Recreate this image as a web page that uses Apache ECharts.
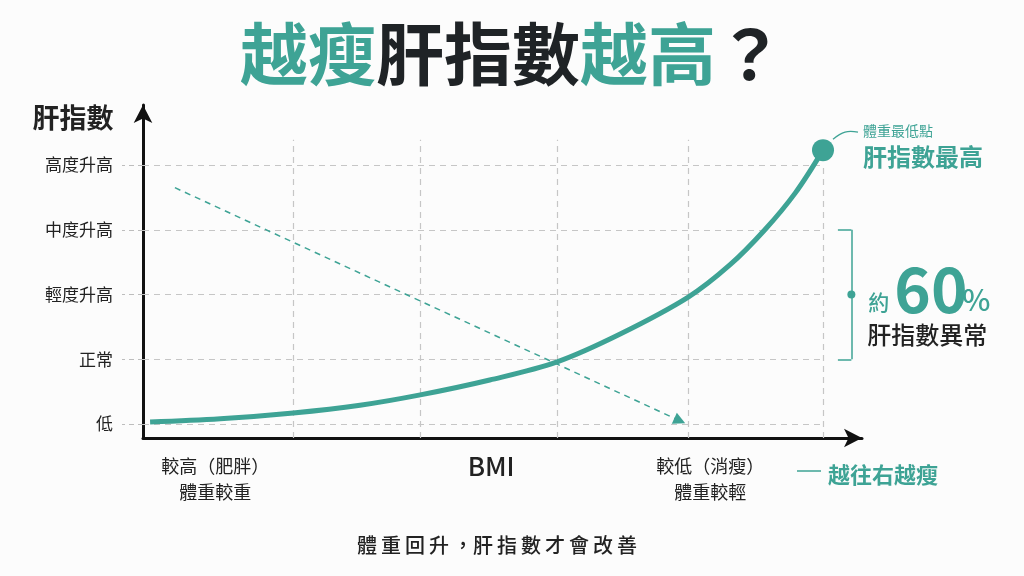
<!DOCTYPE html>
<html>
<head>
<meta charset="utf-8">
<script src="https://cdn.jsdelivr.net/npm/echarts@6/dist/echarts.min.js"></script>
<style>
  html, body { margin: 0; padding: 0; background: #fcfcfc; }
  #main { width: 1024px; height: 576px; }
</style>
</head>
<body>
<div id="main"></div>
<script>
// 肝指數等級（y 軸）
var yLevels = ['低', '正常', '輕度升高', '中度升高', '高度升高'];
var yLevelPos = [0, 1, 2, 3, 4];

// BMI 由高到低（x 軸往右越瘦），肝指數曲線
var bmiX = [1.0, 10.9, 21.2, 30.6, 39.1, 48.9, 58.4, 67.3, 76.9, 82.8, 87.7, 92.0, 95.9];
var liverY = [0.03, 0.08, 0.17, 0.29, 0.45, 0.68, 0.96, 1.39, 1.96, 2.46, 3.00, 3.57, 4.23];

// 垂直虛線格線
var gridX = [21.2, 39.1, 58.4, 76.9, 95.9];
var gridTop = [4.39, 4.39, 4.39, 4.39, 4.0];

// x 軸標籤
var xLabelPos = [10.2, 49.1, 80.0];
var xLabelText = ['{a|較高（肥胖）}\n{a|體重較重}', '{b|BMI}', '{a|較低（消瘦）}\n{a|體重較輕}'];

// 趨勢虛線箭頭
var trendFrom = [4.5, 3.65];
var trendTo = [75.7, 0.05];

// 約60% 的範圍括號（正常 ~ 中度升高）
var bracketX = 99.9;
var bracketTickX = 98.0;
var bracketRange = [1, 3];

var TEAL = '#3ea395';
var DARK = '#1f2326';
var FONT = '"Noto Sans CJK TC", "Noto Sans CJK SC", "Noto Sans", sans-serif';

var chart = echarts.init(document.getElementById('main'));

var curveData = bmiX.map(function (x, i) { return [x, liverY[i]]; });
var endPt = curveData[curveData.length - 1];

var gridLines = [];
yLevelPos.forEach(function (v) {
  gridLines.push([{ coord: [0, v] }, { coord: [gridX[gridX.length - 1], v] }]);
});
gridX.forEach(function (x, i) {
  gridLines.push([{ coord: [x, -0.216] }, { coord: [x, gridTop[i]] }]);
});

var axisLineStyle = { color: '#111', width: 3 };

chart.setOption({
  animation: false,
  backgroundColor: '#fcfcfc',
  grid: { left: 143, right: 162, top: 105, bottom: 138 },
  xAxis: {
    type: 'value', min: 0, max: 101.4,
    axisLine: { show: true, onZero: false, symbol: ['none', 'arrow'], symbolSize: [14, 18], lineStyle: axisLineStyle },
    axisTick: { show: false },
    splitLine: { show: false },
    axisLabel: {
      customValues: xLabelPos,
      margin: 15,
      formatter: function (v) {
        for (var i = 0; i < xLabelPos.length; i++) {
          if (Math.abs(xLabelPos[i] - v) < 0.01) return xLabelText[i];
        }
        return '';
      },
      rich: {
        a: { fontSize: 18, lineHeight: 26, color: '#222', fontFamily: FONT },
        b: { fontSize: 26, lineHeight: 26, color: '#222', fontFamily: FONT, fontWeight: 500 }
      }
    }
  },
  yAxis: {
    type: 'value', min: -0.216, max: 4.927,
    axisLine: { show: true, onZero: false, symbol: ['none', 'arrow'], symbolSize: [14, 18], lineStyle: axisLineStyle },
    axisTick: { show: true, customValues: yLevelPos, length: 21, lineStyle: { color: '#bdbdbd', width: 1.2, type: [5, 4] } },
    axisLabel: {
      customValues: yLevelPos, margin: 30,
      formatter: function (v) { return yLevels[Math.round(v)]; },
      fontSize: 17, color: '#222', fontFamily: FONT
    },
    splitLine: { show: false }
  },
  series: [
    {
      name: 'grid', type: 'line', data: [], z: 1, silent: true,
      markLine: {
        silent: true, symbol: ['none', 'none'], label: { show: false },
        lineStyle: { color: '#c6c6c6', width: 1.2, type: [6, 5] },
        data: gridLines
      }
    },
    {
      name: 'trend', type: 'line', data: [], z: 2, silent: true,
      markLine: {
        silent: true, symbol: ['none', 'triangle'], symbolSize: 12, label: { show: false },
        lineStyle: { color: TEAL, width: 1.5, type: [6, 5] },
        data: [[{ coord: trendFrom }, { coord: trendTo }]]
      }
    },
    {
      name: '肝指數', type: 'line', data: curveData, smooth: 0.35, symbol: 'none', z: 5,
      lineStyle: { color: TEAL, width: 5 }
    },
    {
      name: 'bracket', type: 'line', data: [], z: 3, silent: true,
      markLine: {
        silent: true, symbol: ['none', 'none'], label: { show: false },
        lineStyle: { color: TEAL, width: 1.5, type: 'solid' },
        data: [
          [{ coord: [bracketX, bracketRange[0]] }, { coord: [bracketX, bracketRange[1]] }],
          [{ coord: [bracketTickX, bracketRange[0]] }, { coord: [bracketX, bracketRange[0]] }],
          [{ coord: [bracketTickX, bracketRange[1]] }, { coord: [bracketX, bracketRange[1]] }]
        ]
      }
    },
    {
      name: 'points', type: 'scatter', z: 6, silent: true,
      data: [
        { value: endPt, symbolSize: 22 },
        { value: [bracketX, (bracketRange[0] + bracketRange[1]) / 2], symbolSize: 8 }
      ],
      itemStyle: { color: TEAL, opacity: 1 }
    }
  ]
});

var p = chart.convertToPixel({ gridIndex: 0 }, endPt);
var b = chart.convertToPixel({ gridIndex: 0 }, [bracketX, (bracketRange[0] + bracketRange[1]) / 2]);

function txt(text, x, y, size, color, weight, align) {
  return {
    type: 'text', x: x, y: y, silent: true,
    style: {
      text: text, fontSize: size, fontFamily: FONT, fontWeight: weight || 'normal',
      fill: color, align: align || 'left', verticalAlign: 'middle'
    }
  };
}

chart.setOption({
  graphic: [
    {
      type: 'text', x: 512, y: 54, silent: true,
      style: {
        text: '{t|越瘦}{d|肝指數}{t|越高}{d|？}',
        align: 'center', verticalAlign: 'middle',
        rich: {
          t: { fontSize: 68, fontWeight: 'bold', fill: TEAL, fontFamily: FONT },
          d: { fontSize: 68, fontWeight: 'bold', fill: DARK, fontFamily: FONT }
        }
      }
    },
    txt('肝指數', 73, 118, 27, '#222', 'bold', 'center'),
    txt('體\u2009重\u2009回\u2009升\u2009，肝\u2009指\u2009數\u2009才\u2009會\u2009改\u2009善', 497, 545, 20, '#222', 500, 'center'),
    {
      type: 'polyline', silent: true,
      shape: { points: [[p[0] + 10, p[1] - 11], [p[0] + 22, p[1] - 18], [p[0] + 35, p[1] - 18]], smooth: 0.4 },
      style: { stroke: TEAL, lineWidth: 1.3, fill: null }
    },
    txt('體重最低點', p[0] + 40, p[1] - 19, 14, TEAL, 'normal'),
    txt('肝指數最高', p[0] + 40, p[1] + 7, 24, TEAL, 'bold'),
    txt('約', b[0] + 17, b[1] + 7, 21, TEAL, 500),
    txt('60', b[0] + 43, b[1] - 5, 62, TEAL, 'bold'),
    txt('%', b[0] + 111, b[1] + 5, 30, TEAL, 500),
    txt('肝指數異常', b[0] + 16, b[1] + 40, 24, '#222', 500),
    {
      type: 'line', silent: true,
      shape: { x1: 797, y1: 471, x2: 821, y2: 471 },
      style: { stroke: TEAL, lineWidth: 1.5 }
    },
    txt('越往右越瘦', 828, 475, 22, TEAL, 'bold')
  ]
});
</script>
</body>
</html>
